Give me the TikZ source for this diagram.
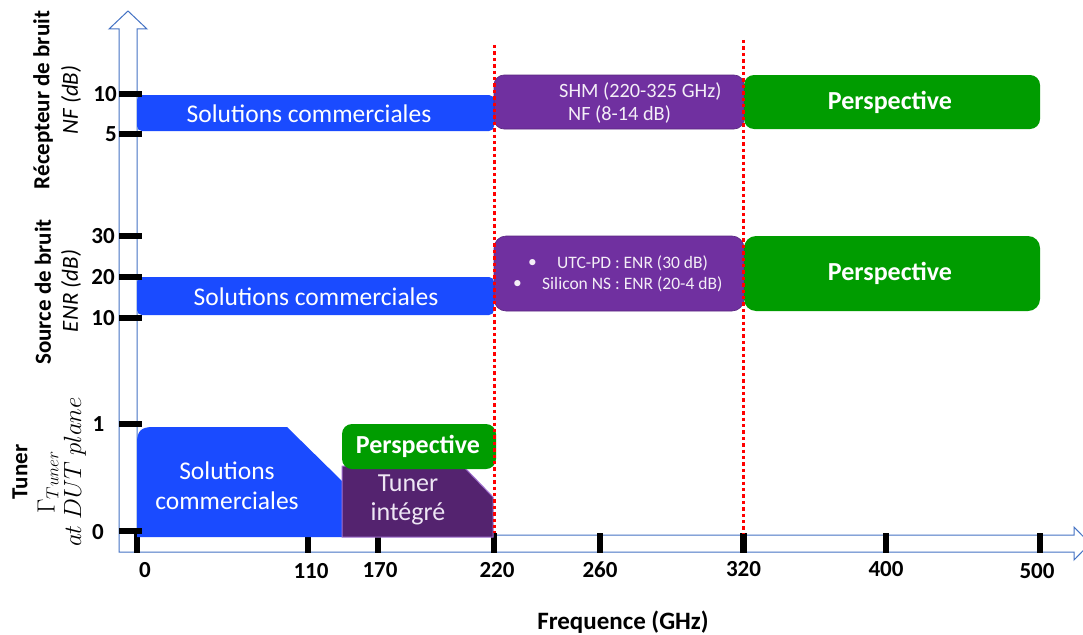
\documentclass[tikz,border=0pt]{standalone}
\usepackage{fontspec}
\setmainfont{Carlito}
\definecolor{cblue}{HTML}{1A4BFF}
\definecolor{cpurple}{HTML}{7030A0}
\definecolor{cdpurple}{HTML}{54236F}
\definecolor{cedge}{HTML}{A070D0}
\definecolor{cgreen}{HTML}{009C00}
\definecolor{axblue}{HTML}{4472C4}
\tikzset{
  boxtxt/.style={text=white, inner sep=0pt, font=\fontsize{25.5}{30}\selectfont, align=center},
  persp/.style={text=white, inner sep=0pt, font=\bfseries\fontsize{26}{30}\selectfont},
  smalltxt/.style={text=white!92!cpurple, inner sep=0pt, anchor=west},
  ticklbl/.style={inner sep=0pt, font=\bfseries\fontsize{23}{27}\selectfont},
  axlbl/.style={inner sep=0pt, rotate=90, font=\bfseries\fontsize{23}{27}\selectfont},
  axsub/.style={inner sep=0pt, rotate=90, font=\itshape\fontsize{23}{27}\selectfont},
  reddot/.style={red, line width=3.6pt, dash pattern=on 3.4pt off 3pt},
}
\begin{document}
\begin{tikzpicture}[x=1pt,y=-1pt]
\clip (0,0) rectangle (1083,634);
\fill[white] (0,0) rectangle (1083,634);

% axes (double-line arrows)
\draw[axblue, line width=1pt, fill=white, line join=miter]
  (128,11) -- (147,29) -- (137,29) -- (137,535) -- (1074,535) -- (1074,527)
  -- (1090,543.5) -- (1074,560) -- (1074,552) -- (119,552) -- (119,29)
  -- (109,29) -- cycle;

% x ticks
\foreach \x in {137,308,378,494,600,743.5,886,1040}
  \fill (\x-3.2,533) rectangle (\x+3.2,553);

% row 1: receiver
\fill[cblue, rounded corners=5pt] (137,95) rectangle (494,131);
\fill[cpurple, rounded corners=10pt] (494,75) rectangle (744,129);
\draw[cpurple!80!black, line width=0.6pt, rounded corners=10pt] (494,75) rectangle (744,129);
\fill[cgreen, rounded corners=10pt] (744,75) rectangle (1040,129);
\node[boxtxt] (nfsol) at (309,114) {Solutions commerciales};
\node[smalltxt, font=\fontsize{20.3}{24}\selectfont] (shm) at (559,91) {SHM (220-325 GHz)};
\node[smalltxt, font=\fontsize{20.3}{24}\selectfont] (shmnf) at (568,114) {NF (8-14 dB)};
\node[persp] (nfpersp) at (890,102) {Perspective};

% row 2: source
\fill[cblue, rounded corners=5pt] (137,277) rectangle (494,315);
\fill[cpurple, rounded corners=12pt] (494,236) rectangle (744,311);
\draw[cpurple!80!black, line width=0.6pt, rounded corners=12pt] (494,236) rectangle (744,311);
\fill[cgreen, rounded corners=12pt] (744,236) rectangle (1040,311);
\node[boxtxt] (enrsol) at (316,297) {Solutions commerciales};
\node[smalltxt, font=\fontsize{17.5}{21}\selectfont] (b1) at (528,263) {•};
\node[smalltxt, font=\fontsize{17.5}{21}\selectfont] (utc) at (557,263) {UTC-PD : ENR (30 dB)};
\node[smalltxt, font=\fontsize{17.5}{21}\selectfont] (b2) at (513,284) {•};
\node[smalltxt, font=\fontsize{17.5}{21}\selectfont] (sil) at (542,284) {Silicon NS : ENR (20-4 dB)};
\node[persp] (enrpersp) at (890,273) {Perspective};

% row 3: tuner
\fill[cblue] (137,537) -- (137,443) .. controls (137,431) and (141,427) .. (153,427)
  -- (287,427) -- (342,481) -- (342,537) -- cycle;
\filldraw[fill=cdpurple, draw=cedge, line width=1pt]
  (342,537) -- (342,466) -- (463,466) -- (493,497) -- (493,537) -- cycle;
\fill[cgreen, rounded corners=10pt] (342,424) rectangle (496,469);
\node[boxtxt, font=\fontsize{25.5}{30}\selectfont] (tunsol) at (227,486) {Solutions\\commerciales};
\node[boxtxt, text=white!88!cpurple, font=\fontsize{26}{28.5}\selectfont] (tunint) at (408,500) {Tuner\\intégré};
\node[persp] (tunpersp) at (418,446) {Perspective};

% y ticks
\foreach \y in {94,134,236,277,318,424,531}
  \fill (119,\y-3.3) rectangle (142,\y+3.3);

% y tick labels
\node[ticklbl, anchor=east] (t10a) at (117,94) {10};
\node[ticklbl, anchor=east] (t5) at (117,134) {5};
\node[ticklbl, anchor=east] (t30) at (115,236) {30};
\node[ticklbl, anchor=east] (t20) at (115,277) {20};
\node[ticklbl, anchor=east] (t10b) at (115,318) {10};
\node[ticklbl] (t1) at (98.5,424) {1};
\node[ticklbl] (t0) at (98,532) {0};

% x tick labels
\node[ticklbl] (x0) at (145,570) {0};
\node[ticklbl] (x110) at (311,571) {110};
\node[ticklbl] (x170) at (380,570) {170};
\node[ticklbl] (x220) at (497,570) {220};
\node[ticklbl] (x260) at (600,570) {260};
\node[ticklbl] (x320) at (743.5,569) {320};
\node[ticklbl] (x400) at (886,569) {400};
\node[ticklbl] (x500) at (1037,571) {500};
\node[inner sep=0pt, font=\bfseries\fontsize{25}{29}\selectfont] (freq) at (623,622) {Frequence (GHz)};

% left labels
\node[axlbl] (lrec) at (43,100) {Récepteur de bruit};
\node[axsub] (lnf) at (71,100) {NF (dB)};
\node[axlbl] (lsrc) at (43,292) {Source de bruit};
\node[axsub] (lenr) at (71,291) {ENR (dB)};
\node[axlbl] (ltun) at (20,472) {Tuner};
\node[inner sep=0pt, rotate=90, font=\fontsize{24}{28}\selectfont] (lgam) at (48,482) {$\Gamma_{Tuner}$};
\node[inner sep=0pt, rotate=90, font=\fontsize{26}{30}\selectfont] (ldut) at (75,472) {$at\ DUT\ plane$};

% red dotted separators
\coordinate (r1top) at (494.5,45);
\coordinate (r1bot) at (494.5,533);
\coordinate (r2top) at (743.5,40);
\coordinate (r2bot) at (743.5,533);
\draw[reddot] (r1top) -- (r1bot);
\draw[reddot] (r2top) -- (r2bot);
\end{tikzpicture}
\end{document}
